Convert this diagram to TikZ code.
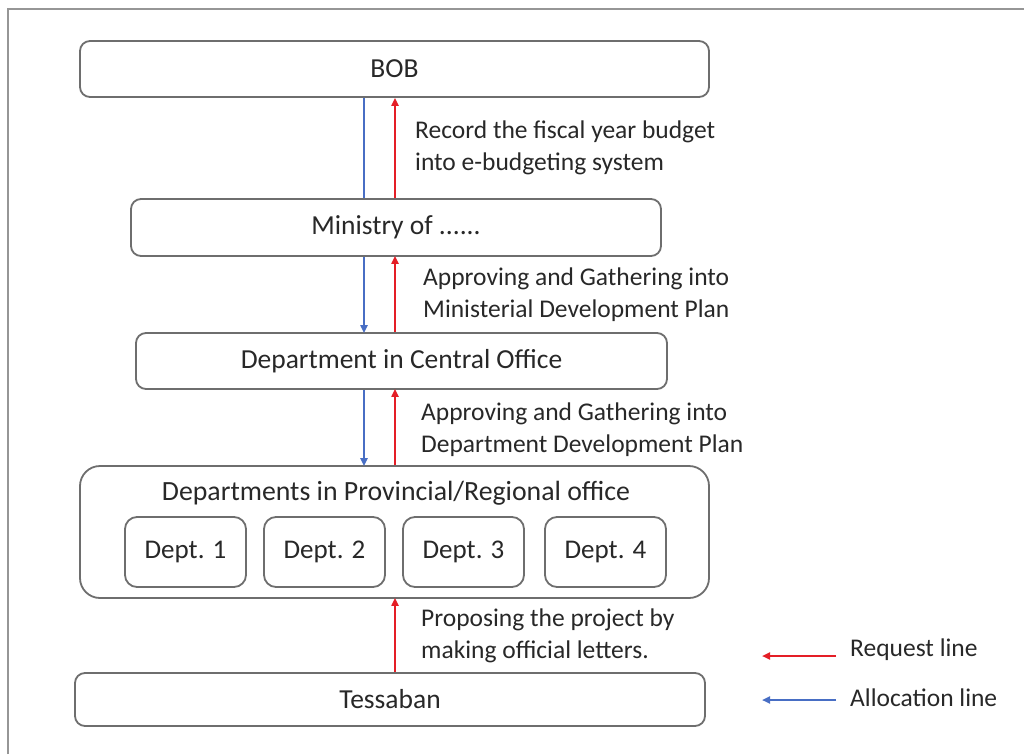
\documentclass[tikz,border=0pt]{standalone}
\usepackage{fontspec}
\setmainfont{Carlito}
\usetikzlibrary{arrows.meta}
\definecolor{reqred}{RGB}{228,30,38}
\definecolor{allocblue}{RGB}{72,110,196}
\definecolor{framegray}{RGB}{150,150,150}
\definecolor{boxgray}{RGB}{110,110,110}
\definecolor{txt}{RGB}{40,40,40}
\begin{document}
\begin{tikzpicture}[x=1pt,y=-1pt,
  stagebox/.style={draw=boxgray,line width=1.8pt,rounded corners=10pt,fill=white,
    inner sep=0pt,text=txt,font=\fontsize{27.5}{32}\selectfont},
  deptbox/.style={draw=boxgray,line width=1.8pt,rounded corners=12pt,
    inner sep=0pt,text=txt,font=\fontsize{27}{32}\selectfont,
    minimum width=121pt,minimum height=70pt},
  lbl/.style={anchor=west,align=left,inner sep=0pt,text=txt,
    font=\fontsize{25.5}{32}\selectfont},
  req/.style={draw=reqred,line width=2.6pt,-{Triangle[length=8pt,width=7pt]}},
  alloc/.style={draw=allocblue,line width=2.3pt,-{Triangle[length=8pt,width=7pt]}},
  allocplain/.style={draw=allocblue,line width=2.3pt}]
\useasboundingbox (0,0) rectangle (1024,754);
\fill[white] (0,0) rectangle (1024,754);
% page frame (top and left edges)
\draw[framegray,line width=2pt] (8,754) -- (8,9) -- (1024,9);

% stages
\node[stagebox,minimum width=629pt,minimum height=56pt] (bob) at (394.5,69) {BOB};
\node[stagebox,minimum width=530pt,minimum height=57pt] (min) at (396,227.5) {Ministry of ......};
\node[stagebox,minimum width=531pt,minimum height=56pt] (cen) at (401.5,361) {Department in Central Office};
\node[draw=boxgray,line width=1.8pt,rounded corners=20pt,minimum width=629pt,
  minimum height=132pt,inner sep=0pt] (prov) at (394.5,532) {};
\node[text=txt,font=\fontsize{27.8}{32}\selectfont,inner sep=0pt] (provt) at (396,493)
  {Departments in Provincial/Regional office};
\node[deptbox] (d1) at (185.5,552) {Dept. 1};
\node[deptbox] (d2) at (324.5,552) {Dept. 2};
\node[deptbox] (d3) at (463.5,552) {Dept. 3};
\node[deptbox] (d4) at (605.5,552) {Dept. 4};
\node[stagebox,minimum width=630pt,minimum height=53pt] (tes) at (390,699.5) {Tessaban};

% connector anchors
\coordinate (bobB) at (bob.south -| 364,0);
\coordinate (bobR) at (bob.south -| 395,0);
\coordinate (minTB) at (min.north -| 364,0);
\coordinate (minTR) at (min.north -| 395,0);
\coordinate (minBB) at (min.south -| 364,0);
\coordinate (minBR) at (min.south -| 395,0);
\coordinate (cenTB) at (cen.north -| 364,0);
\coordinate (cenTR) at (cen.north -| 395,0);
\coordinate (cenBB) at (cen.south -| 364,0);
\coordinate (cenBR) at (cen.south -| 395,0);
\coordinate (provTB) at (prov.north -| 364,0);
\coordinate (provTR) at (prov.north -| 395,0);
\coordinate (provBR) at (prov.south -| 395,0);
\coordinate (tesTR) at (tes.north -| 395,0);

% allocation (blue, downward) and request (red, upward) lines
\draw[allocplain] (bobB) -- (minTB);
\draw[req] (minTR) -- (bobR);
\draw[alloc] (minBB) -- ([yshift=-1pt]cenTB);
\draw[req] (cenTR) -- ([yshift=1pt]minBR);
\draw[alloc] (cenBB) -- ([yshift=-1pt]provTB);
\draw[req] (provTR) -- ([yshift=1pt]cenBR);
\draw[req] (tesTR) -- ([yshift=1pt]provBR);

% step descriptions
\node[lbl] (l1) at (415,148) {Record the fiscal year budget\\into e-budgeting system};
\node[lbl] (l2) at (423,295) {Approving and Gathering into\\Ministerial Development Plan};
\node[lbl] (l3) at (421,430) {Approving and Gathering into\\Department Development Plan};
\node[lbl] (l4) at (421,636) {Proposing the project by\\making official letters.};

% legend
\coordinate (rq1) at (836,656);
\coordinate (rq0) at (762,656);
\coordinate (al1) at (836,700);
\coordinate (al0) at (762,700);
\draw[req,line width=2.8pt] (rq1) -- (rq0);
\draw[alloc,line width=2.8pt] (al1) -- (al0);
\node[anchor=west,inner sep=0pt,text=txt,font=\fontsize{25.5}{32}\selectfont] (rqt) at (850,650) {Request line};
\node[anchor=west,inner sep=0pt,text=txt,font=\fontsize{25.5}{32}\selectfont] (alt) at (850,698) {Allocation line};
\end{tikzpicture}
\end{document}
